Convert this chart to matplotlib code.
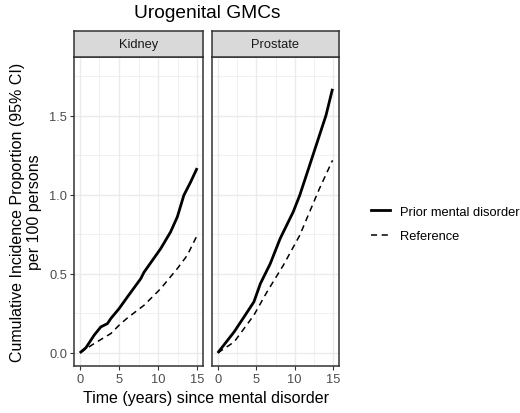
import matplotlib
matplotlib.use("Agg")
import matplotlib.pyplot as plt
from matplotlib.lines import Line2D

plt.rcParams['font.family'] = ['Liberation Sans', 'DejaVu Sans']

# Kidney panel
kidney_t_prior = [0, 0.77, 1.83, 2.68, 3.53, 3.96, 5.02, 6.09, 7.79, 8.21, 10.34, 11.6, 12.47, 13.3, 14.17, 15.0]
kidney_prior = [0, 0.032, 0.112, 0.164, 0.185, 0.217, 0.28, 0.354, 0.469, 0.51, 0.659, 0.764, 0.86, 0.996, 1.08, 1.168]
kidney_t_ref = [0, 1.83, 3.96, 5.02, 6.09, 8.21, 10.34, 12.47, 13.74, 15.0]
kidney_ref = [0, 0.059, 0.122, 0.175, 0.221, 0.301, 0.406, 0.533, 0.617, 0.743]

# Prostate panel
prostate_t_prior = [0, 2.13, 3.41, 4.69, 5.54, 6.82, 8.1, 9.8, 10.65, 11.93, 13.21, 14.06, 14.91]
prostate_prior = [0, 0.133, 0.227, 0.322, 0.438, 0.564, 0.722, 0.891, 0.996, 1.185, 1.375, 1.501, 1.669]
prostate_t_ref = [0, 2.13, 4.69, 6.39, 8.52, 10.65, 11.93, 13.21, 14.91]
prostate_ref = [0, 0.069, 0.238, 0.385, 0.554, 0.743, 0.891, 1.038, 1.217]

panels = ['Kidney', 'Prostate']
series_labels = ['Prior mental disorder', 'Reference']
xticks = [0, 5, 10, 15]
yticks = [0.0, 0.5, 1.0, 1.5]

W, H = 520, 414
fig = plt.figure(figsize=(W / 100, H / 100), dpi=100)


def px_axes(x0, y0, x1, y1):
    return fig.add_axes([x0 / W, 1 - y1 / H, (x1 - x0) / W, (y1 - y0) / H])


data = [
    (kidney_t_prior, kidney_prior, kidney_t_ref, kidney_ref),
    (prostate_t_prior, prostate_prior, prostate_t_ref, prostate_ref),
]
boxes = [(74, 203), (212, 339)]

for i, (name, (tp, yp, tr, yr), (x0, x1)) in enumerate(zip(panels, data, boxes)):
    ax = px_axes(x0, 58, x1, 367)
    ax.set_xlim(-0.75, 15.75)
    ax.set_ylim(-0.083, 1.87)
    ax.set_xticks(xticks)
    ax.set_xticks([2.5, 7.5, 12.5], minor=True)
    ax.set_yticks(yticks)
    ax.set_yticks([0.25, 0.75, 1.25, 1.75], minor=True)
    ax.grid(True, which='major', color='#EBEBEB', lw=1.0)
    ax.grid(True, which='minor', color='#EBEBEB', lw=0.5)
    ax.set_axisbelow(True)
    ax.plot(tp, yp, color='black', lw=2.0, solid_capstyle='butt', solid_joinstyle='round')
    ax.plot(tr, yr, color='black', lw=1.1, dashes=(4, 3))
    for s in ax.spines.values():
        s.set_color('#333333')
        s.set_linewidth(1.1)
    ax.tick_params(which='major', length=3, width=0.8, color='#333333',
                   labelcolor='#4D4D4D', labelsize=9.3, pad=2)
    ax.tick_params(which='minor', length=0)
    ax.set_xticklabels([str(v) for v in xticks])
    if i == 0:
        ax.set_yticklabels(['0.0', '0.5', '1.0', '1.5'])
    else:
        ax.tick_params(axis='y', which='both', left=False, labelleft=False)

    strip = px_axes(x0, 32, x1, 58)
    strip.set_facecolor('#D9D9D9')
    strip.set_xticks([])
    strip.set_yticks([])
    for s in strip.spines.values():
        s.set_color('#333333')
        s.set_linewidth(1.1)
    strip.text(0.5, 0.5, name, ha='center', va='center', fontsize=9.3,
               color='#1A1A1A', transform=strip.transAxes)

fig.text(207 / W, 1 - 14 / H, 'Urogenital GMCs', ha='center', va='center', fontsize=13.8)
fig.text(206 / W, 1 - 399 / H, 'Time (years) since mental disorder', ha='center',
         va='center', fontsize=11.5)
fig.text(26 / W, 1 - 212 / H, 'Cumulative Incidence Proportion (95% CI)\nper 100 persons',
         ha='center', va='center', rotation=90, fontsize=11.5, multialignment='center',
         linespacing=1.15)

handles = [Line2D([], [], color='black', lw=2.0),
           Line2D([], [], color='black', lw=1.1, dashes=(4, 3))]
fig.legend(handles, series_labels, loc='center left',
           bbox_to_anchor=(359 / W, 1 - 225 / H), frameon=False, fontsize=9.3,
           handlelength=1.5, handletextpad=0.8, labelspacing=1.0)

fig.savefig('out.png', dpi=100)
